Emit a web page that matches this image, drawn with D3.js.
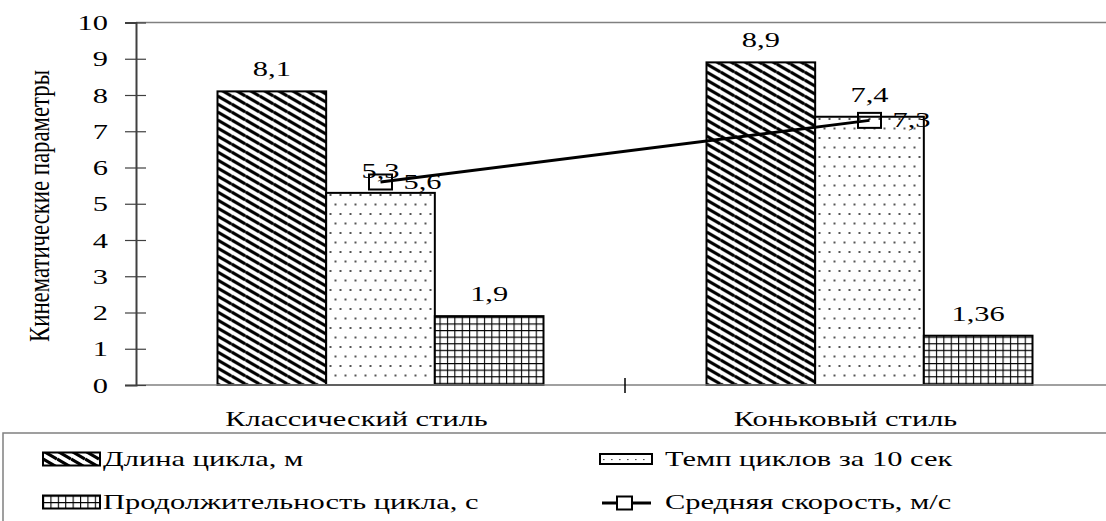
<!DOCTYPE html>
<html>
<head>
<meta charset="utf-8">
<script src="https://cdn.jsdelivr.net/npm/d3@7"></script>
<style>
  body { margin: 0; background: #fff; }
  svg text { font-family: "Liberation Serif", "DejaVu Serif", serif !important; fill: #000; }
</style>
</head>
<body>
<svg id="chart" width="1106" height="521" font-family="Liberation Serif"></svg>
<script>
// chart data
const categories = ["Классический стиль", "Коньковый стиль"];
const barSeries = ["Длина цикла, м", "Темп циклов за 10 сек", "Продолжительность цикла, с"];
const cycleLength = [8.1, 8.9];
const cycleRate = [5.3, 7.4];
const cycleDuration = [1.9, 1.36];
const lineSeries = "Средняя скорость, м/с";
const avgSpeed = [5.6, 7.3];
const yTicks = [0, 1, 2, 3, 4, 5, 6, 7, 8, 9, 10];
const yTitle = "Кинематические параметры";

const barValues = [cycleLength, cycleRate, cycleDuration];
const fmt = (v) => String(v).replace(".", ",");

const width = 1106, height = 521;
const stretch = 1.45; // the source picture is stretched horizontally
const fontSize = 21;
const serif = "Liberation Serif";

const svg = d3.select("#chart");

// fill patterns
const defs = svg.append("defs");

const diag = defs.append("pattern")
  .attr("id", "pDiag").attr("patternUnits", "userSpaceOnUse")
  .attr("width", 14).attr("height", 8);
diag.append("rect").attr("width", 14).attr("height", 8).attr("fill", "#fff");
diag.append("path")
  .attr("d", "M0,0L14,8M0,-8L14,0M0,8L14,16")
  .attr("stroke", "#000").attr("stroke-width", 3.2);

const dots = defs.append("pattern")
  .attr("id", "pDots").attr("patternUnits", "userSpaceOnUse")
  .attr("width", 10).attr("height", 19);
dots.append("rect").attr("width", 10).attr("height", 19).attr("fill", "#fff");
dots.append("rect").attr("x", 2).attr("y", 4).attr("width", 2).attr("height", 2).attr("fill", "#555");
dots.append("rect").attr("x", 7).attr("y", 13.5).attr("width", 2).attr("height", 2).attr("fill", "#555");

const dotsKey = defs.append("pattern")
  .attr("id", "pDotsKey").attr("patternUnits", "userSpaceOnUse")
  .attr("width", 8).attr("height", 10);
dotsKey.append("rect").attr("width", 8).attr("height", 10).attr("fill", "#fff");
dotsKey.append("rect").attr("x", 3).attr("y", -0.5).attr("width", 1.6).attr("height", 1.6).attr("fill", "#555");

const grid = defs.append("pattern")
  .attr("id", "pGrid").attr("patternUnits", "userSpaceOnUse")
  .attr("width", 7.4).attr("height", 6.6);
grid.append("rect").attr("width", 7.4).attr("height", 6.6).attr("fill", "#fff");
grid.append("path")
  .attr("d", "M0,0H7.4M0,0V6.6")
  .attr("stroke", "#000").attr("stroke-width", 2.2);

const fills = ["url(#pDiag)", "url(#pDots)", "url(#pGrid)"];

// scales
const plot = { left: 136, right: 1114, top: 22.5, bottom: 385 };

const x0 = d3.scaleBand()
  .domain(categories)
  .range([plot.left, plot.right]);

// gap width 150% -> bar = step / 4.5
const barW = x0.step() / 4.5;
const x1 = d3.scaleBand()
  .domain(barSeries)
  .range([0, barW * barSeries.length]);
const groupOffset = (x0.bandwidth() - x1.range()[1]) / 2;

const y = d3.scaleLinear().domain([0, 10]).range([plot.bottom, plot.top]);

function placeText(sel, x, yPos) {
  return sel
    .attr("font-family", serif)
    .attr("transform", `translate(${x},${yPos}) scale(${stretch},1)`);
}

// top border line
svg.append("line")
  .attr("x1", plot.left).attr("x2", width)
  .attr("y1", y(10)).attr("y2", y(10))
  .attr("stroke", "#808080").attr("stroke-width", 1.5);

// bars
const groups = svg.append("g").selectAll("g")
  .data(categories)
  .join("g")
  .attr("transform", (c) => `translate(${x0(c) + groupOffset},0)`);

groups.selectAll("rect")
  .data((c, ci) => barSeries.map((s, si) => ({ s, si, v: barValues[si][ci] })))
  .join("rect")
  .attr("x", (d) => x1(d.s))
  .attr("y", (d) => y(d.v))
  .attr("width", x1.bandwidth())
  .attr("height", (d) => y(0) - y(d.v))
  .attr("fill", (d) => fills[d.si])
  .attr("stroke", "#000")
  .attr("stroke-width", 2);

groups.selectAll("text")
  .data((c, ci) => barSeries.map((s, si) => ({ s, si, v: barValues[si][ci] })))
  .join("text")
  .attr("text-anchor", "middle")
  .attr("font-size", fontSize)
  .text((d) => fmt(d.v))
  .each(function (d) {
    placeText(d3.select(this), x1(d.s) + x1.bandwidth() / 2, y(d.v) - 15);
  });

// x axis
svg.append("line")
  .attr("x1", plot.left).attr("x2", width)
  .attr("y1", y(0)).attr("y2", y(0))
  .attr("stroke", "#808080").attr("stroke-width", 1.5);

svg.append("g").selectAll("line")
  .data(categories.slice(1))
  .join("line")
  .attr("x1", (c) => x0(c)).attr("x2", (c) => x0(c))
  .attr("y1", y(0) - 7).attr("y2", y(0) + 8)
  .attr("stroke", "#000").attr("stroke-width", 1.5);

svg.append("g").selectAll("text")
  .data(categories)
  .join("text")
  .attr("text-anchor", "middle")
  .attr("font-size", fontSize)
  .text((c) => c)
  .each(function (c) {
    placeText(d3.select(this), x0(c) + x0.bandwidth() / 2 - 24, 426);
  });

// y axis
const yAxis = svg.append("g")
  .attr("transform", `translate(${plot.left},0)`)
  .call(d3.axisLeft(y).tickValues(yTicks).tickSize(11).tickFormat((d) => fmt(d)))
  .attr("font-family", serif);

yAxis.select(".domain").attr("stroke", "#404040").attr("stroke-width", 2);
yAxis.selectAll(".tick line")
  .attr("x1", -11).attr("x2", 10)
  .attr("stroke", "#404040").attr("stroke-width", 1.2);
yAxis.selectAll(".tick text")
  .attr("x", null).attr("dy", "0.34em")
  .attr("font-size", fontSize)
  .attr("font-family", serif)
  .attr("transform", `translate(-28,0) scale(${stretch},1)`);

svg.append("text")
  .attr("text-anchor", "middle")
  .attr("font-size", fontSize)
  .attr("font-family", serif)
  .attr("textLength", 272)
  .attr("lengthAdjust", "spacingAndGlyphs")
  .attr("transform", `translate(49,206) scale(${stretch},1) rotate(-90)`)
  .text(yTitle);

// line series
const cx = (i) => x0(categories[i]) + x0.bandwidth() / 2;
const line = d3.line()
  .x((d, i) => cx(i))
  .y((d) => y(d));

svg.append("path")
  .datum(avgSpeed)
  .attr("d", line)
  .attr("fill", "none")
  .attr("stroke", "#000")
  .attr("stroke-width", 3);

svg.append("g").selectAll("rect")
  .data(avgSpeed)
  .join("rect")
  .attr("x", (d, i) => cx(i) - 11.5)
  .attr("y", (d) => y(d) - 7.5)
  .attr("width", 23).attr("height", 15)
  .attr("fill", "none")
  .attr("stroke", "#000").attr("stroke-width", 2);

svg.append("g").selectAll("text")
  .data(avgSpeed)
  .join("text")
  .attr("font-size", fontSize)
  .text((d) => fmt(d))
  .each(function (d, i) {
    placeText(d3.select(this), cx(i) + 23, y(d) + 7);
  });

// legend
svg.append("rect")
  .attr("x", 3).attr("y", 433)
  .attr("width", 1130).attr("height", 120)
  .attr("fill", "none")
  .attr("stroke", "#808080").attr("stroke-width", 1.5);

const legendItems = [
  { name: barSeries[0], fill: fills[0], x: 43, y: 459, w: 57, h: 13, tx: 60 },
  { name: barSeries[1], fill: "url(#pDotsKey)", x: 600, y: 459, w: 52, h: 10, tx: 65 },
  { name: barSeries[2], fill: fills[2], x: 43, y: 502, w: 57, h: 13, tx: 60 },
  { name: lineSeries, fill: null, x: 600, y: 502, tx: 65 },
];

const legend = svg.append("g").selectAll("g")
  .data(legendItems)
  .join("g")
  .attr("transform", (d) => `translate(${d.x},${d.y})`);

legend.filter((d) => d.fill)
  .append("rect")
  .attr("x", 0).attr("y", (d) => -d.h / 2)
  .attr("width", (d) => d.w)
  .attr("height", (d) => d.h)
  .attr("fill", (d) => d.fill)
  .attr("stroke", "#000").attr("stroke-width", 2);

const lineItem = legend.filter((d) => !d.fill);
lineItem.append("line")
  .attr("x1", 2).attr("x2", 51).attr("y1", 1).attr("y2", 1)
  .attr("stroke", "#000").attr("stroke-width", 3);
lineItem.append("rect")
  .attr("x", 17).attr("y", -5.5).attr("width", 15).attr("height", 13)
  .attr("fill", "#fff").attr("stroke", "#000").attr("stroke-width", 2);

legend.append("text")
  .attr("font-size", fontSize)
  .text((d) => d.name)
  .each(function (d) {
    placeText(d3.select(this), d.tx, 7);
  });
</script>
</body>
</html>
